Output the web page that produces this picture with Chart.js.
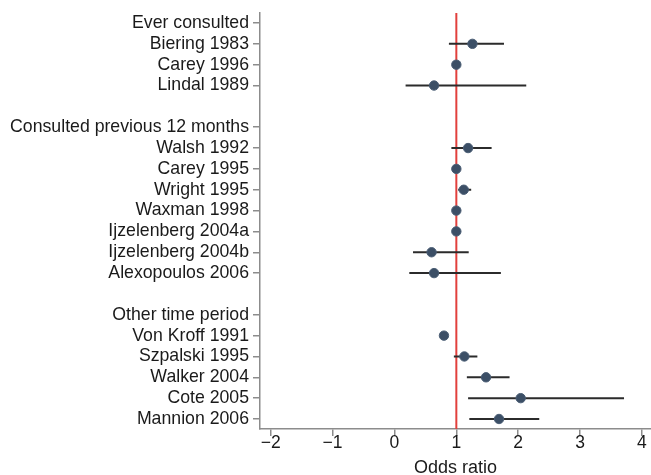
<!DOCTYPE html>
<html>
<head>
<meta charset="utf-8">
<style>
  html, body { margin: 0; padding: 0; background: #fff; }
  #wrap { width: 651px; height: 475px; position: relative; }
</style>
<script src="https://cdn.jsdelivr.net/npm/chart.js@4.4.1/dist/chart.umd.min.js"></script>
</head>
<body>
<div id="wrap"><canvas id="c" width="651" height="475"></canvas></div>
<script>
// ---- data ----
const rowLabels = [
  "Ever consulted", "Biering 1983", "Carey 1996", "Lindal 1989", "",
  "Consulted previous 12 months", "Walsh 1992", "Carey 1995", "Wright 1995",
  "Waxman 1998", "Ijzelenberg 2004a", "Ijzelenberg 2004b", "Alexopoulos 2006", "",
  "Other time period", "Von Kroff 1991", "Szpalski 1995", "Walker 2004",
  "Cote 2005", "Mannion 2006"
];
const oddsRatio = [null, 1.26, 1.00, 0.64, null, null, 1.19, 1.00, 1.12, 1.00, 1.00, 0.60, 0.64, null, null, 0.80, 1.13, 1.48, 2.04, 1.69];
const ciLower   = [null, 0.88, null, 0.18, null, null, 0.92, null, 1.03, null, null, 0.30, 0.24, null, null, null, 0.96, 1.17, 1.19, 1.21];
const ciUpper   = [null, 1.77, null, 2.13, null, null, 1.57, null, 1.24, null, null, 1.20, 1.72, null, null, null, 1.34, 1.86, 3.71, 2.34];
const xTicks = [-2, -1, 0, 1, 2, 3, 4];
const refValue = 1;

// ---- build datasets from arrays ----
const pointData = [];
oddsRatio.forEach((v, i) => { if (v !== null) pointData.push({ x: v, y: i }); });
const ciData = [];
ciLower.forEach((lo, i) => {
  if (lo !== null && ciUpper[i] !== null) {
    ciData.push({ x: lo, y: i }, { x: ciUpper[i], y: i }, { x: null, y: null });
  }
});
const yMin = -0.48, yMax = 19.48;
const refData = [{ x: refValue, y: yMin }, { x: refValue, y: yMax }];

const FONT = "'Liberation Sans', Arial, Helvetica, sans-serif";
const AXIS = '#8c8c8c';

new Chart(document.getElementById('c'), {
  type: 'scatter',
  data: {
    datasets: [
      { type: 'line', data: refData, borderColor: '#e2403d', borderWidth: 2, pointRadius: 0, order: 3, clip: false },
      { type: 'line', data: ciData, borderColor: '#2b2b2b', borderWidth: 2, pointRadius: 0, spanGaps: false, order: 2 },
      { data: pointData, backgroundColor: '#3c4f66', borderColor: '#4a5d74', borderWidth: 1, pointRadius: 4.7, order: 1 }
    ]
  },
  options: {
    responsive: false,
    animation: false,
    devicePixelRatio: 1,
    layout: { autoPadding: false, padding: { top: 13, right: 0, left: 0, bottom: 0 } },
    plugins: { legend: { display: false }, tooltip: { enabled: false } },
    scales: {
      x: {
        type: 'linear',
        min: -2.173, max: 4.146,
        afterBuildTicks: s => { s.ticks = xTicks.map(v => ({ value: v })); },
        afterFit: s => { s.height = 46; s.paddingLeft = 0; s.paddingRight = 0; },
        grid: { drawOnChartArea: false, drawTicks: true, tickLength: 7, color: AXIS, lineWidth: 1.5 },
        border: { color: AXIS, width: 1.5 },
        ticks: {
          color: '#1a1a1a', padding: -3,
          font: { family: FONT, size: 17.5 },
          callback: v => (v < 0 ? '\u2212' + Math.abs(v) : String(v))
        },
        title: { display: true, text: 'Odds ratio', color: '#1a1a1a', padding: { top: 0, bottom: -2 }, font: { family: FONT, size: 18, lineHeight: 1 } }
      },
      y: {
        type: 'linear',
        reverse: true,
        min: yMin, max: yMax,
        afterBuildTicks: s => {
          s.ticks = rowLabels.map((l, i) => ({ value: i, label: l })).filter(t => t.label !== '').map(t => ({ value: t.value }));
        },
        afterFit: s => { s.width = 260; s.paddingTop = 0; s.paddingBottom = 0; },
        grid: { drawOnChartArea: false, drawTicks: true, tickLength: 7, color: AXIS, lineWidth: 1.5 },
        border: { color: AXIS, width: 1.5 },
        ticks: {
          color: '#1a1a1a', padding: 4, autoSkip: false,
          font: { family: FONT, size: 17.7 },
          callback: v => rowLabels[v]
        }
      }
    }
  }
});
</script>
</body>
</html>
